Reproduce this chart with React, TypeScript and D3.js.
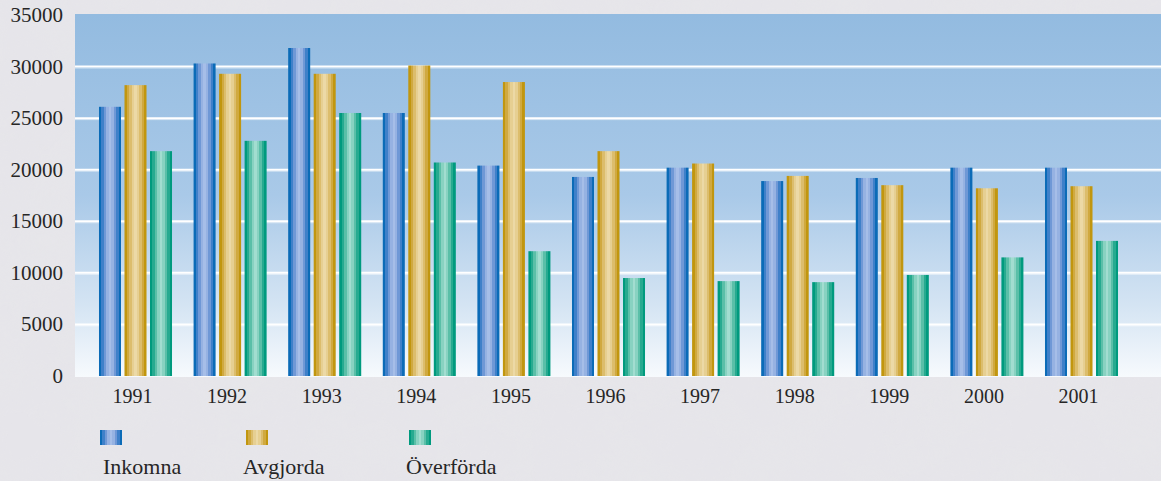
import React from "react";
import * as d3 from "d3";

const years = ["1991","1992","1993","1994","1995","1996","1997","1998","1999","2000","2001"];
const seriesNames = ["Inkomna","Avgjorda","Överförda"];
const inkomna = [26100,30300,31800,25500,20400,19300,20200,18900,19200,20200,20200];
const avgjorda = [28200,29300,29300,30100,28500,21800,20600,19400,18500,18200,18400];
const overforda = [21800,22800,25500,20700,12100,9500,9200,9100,9800,11500,13100];
const yTicks = [0,5000,10000,15000,20000,25000,30000,35000];

const seriesValues = [inkomna, avgjorda, overforda];

const W = 1161, H = 481;
const plotLeft = 75, plotRight = 1161, plotTop = 14, plotBottom = 377;

const stripes: Record<string, string[]> = {
  g0: ["#0b6bb7", "#3f80c9", "#6f98d6", "#96b2e2", "#a6bee8", "#96b2e2", "#6f98d6", "#3f80c9", "#0b6bb7"],
  g1: ["#c1960f", "#d0a940", "#dcbd6c", "#e6cf92", "#ecd9a6", "#e6cf92", "#dcbd6c", "#d0a940", "#c1960f"],
  g2: ["#009a7e", "#27aa90", "#5abfa8", "#88d2c1", "#a2ddd0", "#88d2c1", "#5abfa8", "#27aa90", "#009a7e"],
};

function StripeGrad({ id, colors }: { id: string; colors: string[] }) {
  const n = colors.length;
  const stops: JSX.Element[] = [];
  colors.forEach((c, i) => {
    stops.push(<stop key={i + "a"} offset={`${(i / n) * 100}%`} stopColor={c} />);
    stops.push(<stop key={i + "b"} offset={`${((i + 1) / n) * 100}%`} stopColor={c} />);
  });
  return (
    <linearGradient id={id} x1="0" x2="1" y1="0" y2="0">
      {stops}
    </linearGradient>
  );
}

export default function App() {
  const y = d3.scaleLinear().domain([0, 35000]).range([376, 15]);
  const x = d3.scaleBand<string>().domain(years).range([88.2, 1128.8]).paddingInner(0.228).paddingOuter(0.114);
  const xs = d3.scaleBand<string>().domain(seriesNames).range([0, x.bandwidth()]).paddingInner(0.137).paddingOuter(0);

  const legendX = [100, 246, 409];
  const legendTextX = [103, 243, 406];

  return (
    <svg width={W} height={H} style={{ display: "block", position: "absolute", left: 0, top: 0 }}>
      <defs>
        <linearGradient id="bg" x1="0" x2="0" y1="0" y2="1">
          <stop offset="0%" stopColor="#93bbe0" />
          <stop offset="50%" stopColor="#a9c9e8" />
          <stop offset="80%" stopColor="#d4e4f3" />
          <stop offset="100%" stopColor="#f7fafd" />
        </linearGradient>
        <filter id="marble" x="0" y="0" width="100%" height="100%">
          <feTurbulence type="fractalNoise" baseFrequency="0.015" numOctaves="4" seed="3" result="noise" />
          <feColorMatrix type="matrix" values="0 0 0 0 0.8  0 0 0 0 0.8  0 0 0 0 0.82  -1.4 0 0 0 1.0" result="tint" />
          <feComposite in="tint" in2="SourceGraphic" operator="in" />
        </filter>
        {Object.entries(stripes).map(([k, c]) => (
          <StripeGrad key={k} id={k} colors={c} />
        ))}
      </defs>
      <rect x={0} y={0} width={W} height={H} fill="#e6e5ea" />
      <rect x={0} y={0} width={W} height={H} fill="#e6e5ea" filter="url(#marble)" opacity={0.7} />
      <rect x={plotLeft} y={plotTop} width={plotRight - plotLeft} height={plotBottom - plotTop} fill="url(#bg)" />
      {yTicks.filter((t) => t > 0 && t < 35000).map((t) => (
        <g key={t}>
          <line x1={plotLeft} x2={plotRight} y1={y(t) + 1.5} y2={y(t) + 1.5} stroke="#ffffff" strokeOpacity={0.5} strokeWidth={1} />
          <line x1={plotLeft} x2={plotRight} y1={y(t)} y2={y(t)} stroke="#ffffff" strokeWidth={2} />
        </g>
      ))}
      {years.map((yr, i) => (
        <g key={yr} transform={`translate(${x(yr)},0)`}>
          {seriesNames.map((s, j) => {
            const v = seriesValues[j][i];
            return (
              <rect key={s} x={xs(s)} y={y(v)} width={xs.bandwidth()} height={y(0) - y(v)} fill={`url(#g${j})`} />
            );
          })}
        </g>
      ))}
      {yTicks.map((t) => (
        <text key={t} x={63} y={y(t) + 7} textAnchor="end" fontFamily="'Liberation Serif', serif" fontSize={21} fill="#262626">
          {t}
        </text>
      ))}
      {years.map((yr) => (
        <text key={yr} x={(x(yr) as number) + x.bandwidth() / 2 - 3} y={403} textAnchor="middle" fontFamily="'Liberation Serif', serif" fontSize={20} fill="#262626">
          {yr}
        </text>
      ))}
      {seriesNames.map((s, j) => (
        <g key={s}>
          <rect x={legendX[j]} y={430} width={22} height={15} fill={`url(#g${j})`} />
          <text x={legendTextX[j]} y={474} fontFamily="'Liberation Serif', serif" fontSize={22} fill="#262626">
            {s}
          </text>
        </g>
      ))}
    </svg>
  );
}
